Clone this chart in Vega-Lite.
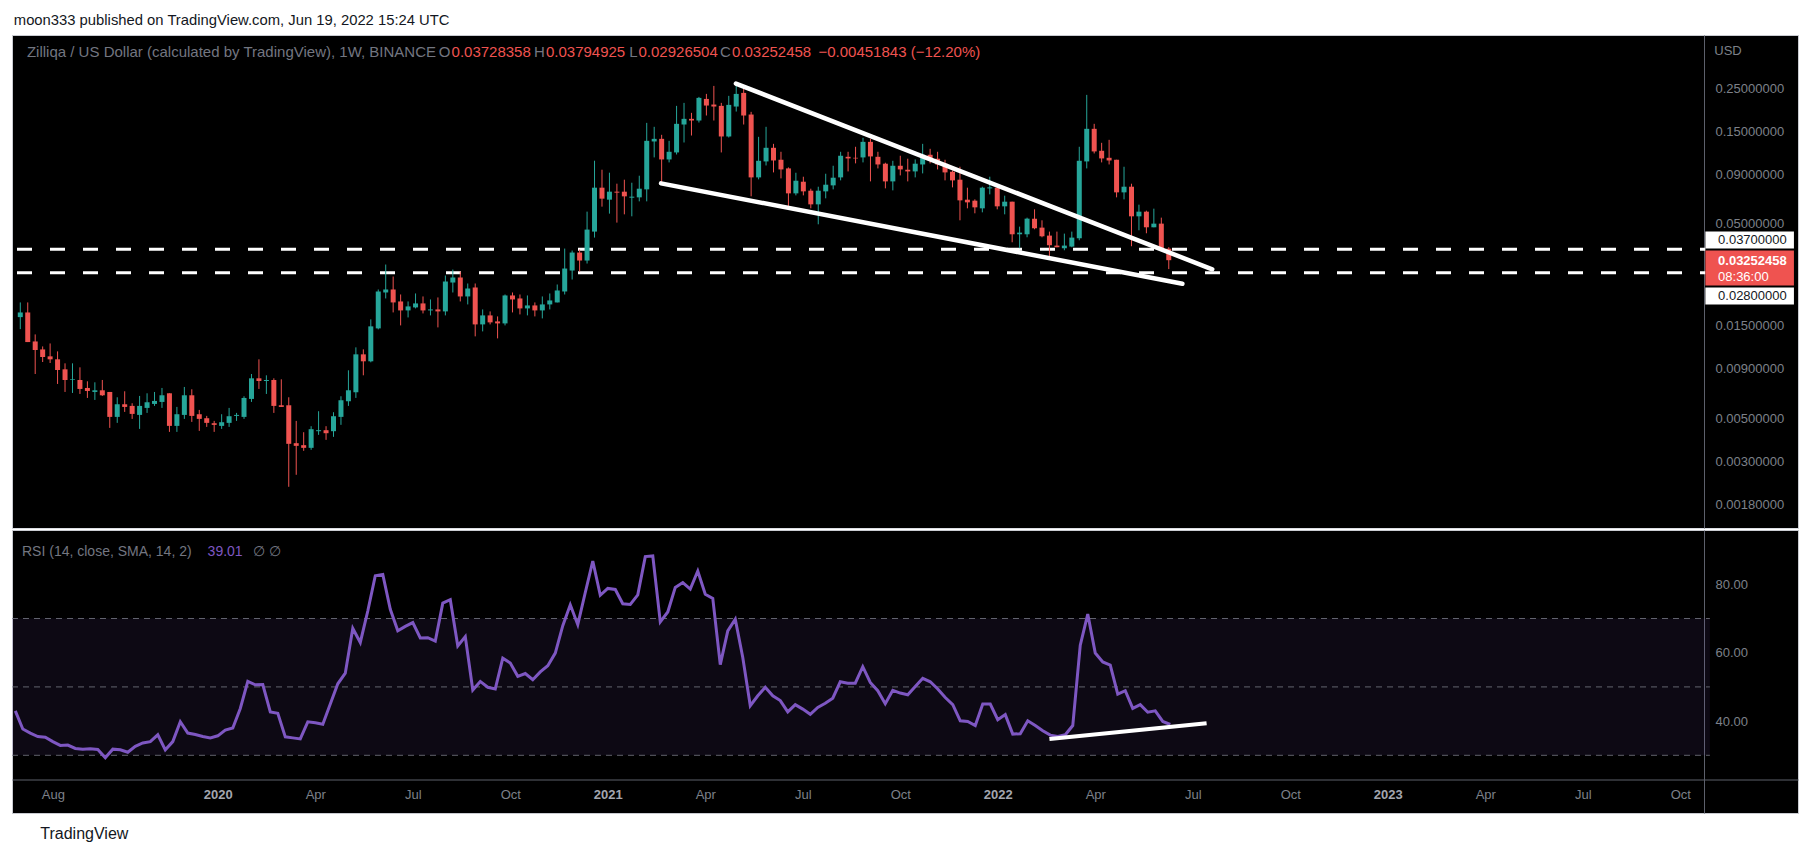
{
  "$schema": "https://vega.github.io/schema/vega-lite/v6.json",
  "background": "#ffffff",
  "padding": {"left": 8, "top": 12, "right": 12, "bottom": 14},
  "title": {"text": "moon333 published on TradingView.com, Jun 19, 2022 15:24 UTC", "anchor": "start", "fontSize": 14.8, "font": "Liberation Sans", "fontWeight": "normal", "color": "#131722", "offset": 7, "dx": 5},
  "config": {
    "view": {"fill": "#000000", "stroke": "#c9cbd1", "strokeWidth": 1},
    "font": "Liberation Sans",
    "axis": {"grid": false, "ticks": false, "title": null, "labelFont": "Liberation Sans", "labelOverlap": false, "labelFlush": false}
  },
  "spacing": 0,
  "resolve": {"scale": {"x": "independent", "y": "independent"}},
  "datasets": {
    "weekly": [
      {"date":"2019-07-01","open":0.01656,"high":0.01971,"low":0.01436,"close":0.01750,"rsi":43.0},
      {"date":"2019-07-08","open":0.01750,"high":0.01971,"low":0.01232,"close":0.01232,"rsi":37.7},
      {"date":"2019-07-15","open":0.01241,"high":0.01349,"low":0.008437,"close":0.01121,"rsi":36.5},
      {"date":"2019-07-22","open":0.01129,"high":0.01170,"low":0.009725,"close":0.01032,"rsi":35.5},
      {"date":"2019-07-29","open":0.01040,"high":0.01212,"low":0.009611,"close":0.01004,"rsi":35.3},
      {"date":"2019-08-05","open":0.01004,"high":0.01103,"low":0.007496,"close":0.008846,"rsi":34.0},
      {"date":"2019-08-12","open":0.008917,"high":0.009573,"low":0.006818,"close":0.007859,"rsi":32.9},
      {"date":"2019-08-19","open":0.007859,"high":0.009573,"low":0.006738,"close":0.007921,"rsi":33.0},
      {"date":"2019-08-26","open":0.007859,"high":0.009130,"low":0.006659,"close":0.007066,"rsi":32.0},
      {"date":"2019-09-02","open":0.007149,"high":0.007736,"low":0.006351,"close":0.006900,"rsi":31.8},
      {"date":"2019-09-09","open":0.006818,"high":0.007645,"low":0.006203,"close":0.006954,"rsi":31.9},
      {"date":"2019-09-16","open":0.006954,"high":0.007859,"low":0.006503,"close":0.006555,"rsi":31.7},
      {"date":"2019-09-23","open":0.006818,"high":0.006818,"low":0.004453,"close":0.005073,"rsi":29.3},
      {"date":"2019-09-30","open":0.005073,"high":0.006402,"low":0.004726,"close":0.005893,"rsi":31.8},
      {"date":"2019-10-07","open":0.005893,"high":0.006873,"low":0.005382,"close":0.005710,"rsi":31.6},
      {"date":"2019-10-14","open":0.005779,"high":0.005963,"low":0.004955,"close":0.005256,"rsi":30.9},
      {"date":"2019-10-21","open":0.005194,"high":0.006503,"low":0.004401,"close":0.005779,"rsi":32.6},
      {"date":"2019-10-28","open":0.005643,"high":0.006712,"low":0.005319,"close":0.006035,"rsi":33.6},
      {"date":"2019-11-04","open":0.005916,"high":0.006818,"low":0.005779,"close":0.006130,"rsi":34.0},
      {"date":"2019-11-11","open":0.006058,"high":0.007149,"low":0.005643,"close":0.006555,"rsi":36.0},
      {"date":"2019-11-18","open":0.006712,"high":0.006712,"low":0.004247,"close":0.004560,"rsi":31.6},
      {"date":"2019-11-25","open":0.004560,"high":0.005710,"low":0.004247,"close":0.005236,"rsi":34.0},
      {"date":"2019-12-02","open":0.005194,"high":0.007234,"low":0.004955,"close":0.006555,"rsi":39.8},
      {"date":"2019-12-09","open":0.006555,"high":0.007038,"low":0.004781,"close":0.005133,"rsi":36.5},
      {"date":"2019-12-16","open":0.005236,"high":0.005510,"low":0.004298,"close":0.004955,"rsi":36.1},
      {"date":"2019-12-23","open":0.004994,"high":0.005133,"low":0.004506,"close":0.004726,"rsi":35.5},
      {"date":"2019-12-30","open":0.004707,"high":0.004838,"low":0.004247,"close":0.004614,"rsi":35.1},
      {"date":"2020-01-06","open":0.004560,"high":0.005236,"low":0.004401,"close":0.004763,"rsi":35.7},
      {"date":"2020-01-13","open":0.004726,"high":0.005643,"low":0.004506,"close":0.005113,"rsi":37.4},
      {"date":"2020-01-20","open":0.005133,"high":0.005319,"low":0.004838,"close":0.005194,"rsi":38.0},
      {"date":"2020-01-27","open":0.005073,"high":0.006478,"low":0.004955,"close":0.006351,"rsi":43.7},
      {"date":"2020-02-03","open":0.006277,"high":0.008437,"low":0.006058,"close":0.008016,"rsi":51.6},
      {"date":"2020-02-10","open":0.008016,"high":0.01004,"low":0.007066,"close":0.007766,"rsi":50.6},
      {"date":"2020-02-17","open":0.007766,"high":0.008305,"low":0.006659,"close":0.007859,"rsi":50.7},
      {"date":"2020-02-24","open":0.007859,"high":0.008016,"low":0.005319,"close":0.005779,"rsi":42.7},
      {"date":"2020-03-02","open":0.005823,"high":0.007921,"low":0.005710,"close":0.005710,"rsi":42.3},
      {"date":"2020-03-09","open":0.005823,"high":0.006402,"low":0.002215,"close":0.003686,"rsi":35.4},
      {"date":"2020-03-16","open":0.003715,"high":0.004838,"low":0.002553,"close":0.003599,"rsi":35.1},
      {"date":"2020-03-23","open":0.003628,"high":0.004231,"low":0.003393,"close":0.003515,"rsi":34.8},
      {"date":"2020-03-30","open":0.003515,"high":0.004543,"low":0.003434,"close":0.004384,"rsi":39.8},
      {"date":"2020-04-06","open":0.004282,"high":0.005426,"low":0.004100,"close":0.004333,"rsi":39.5},
      {"date":"2020-04-13","open":0.004333,"high":0.004543,"low":0.003864,"close":0.004181,"rsi":39.1},
      {"date":"2020-04-20","open":0.004282,"high":0.005362,"low":0.004004,"close":0.005114,"rsi":45.0},
      {"date":"2020-04-27","open":0.005074,"high":0.006479,"low":0.004616,"close":0.006180,"rsi":50.9},
      {"date":"2020-05-04","open":0.006107,"high":0.008813,"low":0.005779,"close":0.006956,"rsi":54.0},
      {"date":"2020-05-11","open":0.006794,"high":0.01157,"low":0.006353,"close":0.01065,"rsi":67.1},
      {"date":"2020-05-18","open":0.01065,"high":0.01130,"low":0.008307,"close":0.009807,"rsi":63.0},
      {"date":"2020-05-25","open":0.009807,"high":0.01612,"low":0.009691,"close":0.01484,"rsi":72.2},
      {"date":"2020-06-01","open":0.01449,"high":0.02298,"low":0.01432,"close":0.02244,"rsi":82.5},
      {"date":"2020-06-08","open":0.02218,"high":0.03089,"low":0.02066,"close":0.02298,"rsi":82.9},
      {"date":"2020-06-15","open":0.02298,"high":0.02680,"low":0.01751,"close":0.01971,"rsi":72.7},
      {"date":"2020-06-22","open":0.01994,"high":0.02166,"low":0.01501,"close":0.01793,"rsi":66.4},
      {"date":"2020-06-29","open":0.01793,"high":0.01994,"low":0.01650,"close":0.01880,"rsi":67.7},
      {"date":"2020-07-06","open":0.01858,"high":0.02192,"low":0.01836,"close":0.01948,"rsi":68.8},
      {"date":"2020-07-13","open":0.01948,"high":0.02116,"low":0.01730,"close":0.01793,"rsi":64.3},
      {"date":"2020-07-20","open":0.01793,"high":0.02042,"low":0.01690,"close":0.01814,"rsi":64.4},
      {"date":"2020-07-27","open":0.01814,"high":0.02091,"low":0.01466,"close":0.01772,"rsi":63.4},
      {"date":"2020-08-03","open":0.01772,"high":0.02712,"low":0.01690,"close":0.02526,"rsi":74.5},
      {"date":"2020-08-10","open":0.02496,"high":0.02911,"low":0.02218,"close":0.02649,"rsi":75.5},
      {"date":"2020-08-17","open":0.02649,"high":0.02843,"low":0.01994,"close":0.02116,"rsi":62.0},
      {"date":"2020-08-24","open":0.02116,"high":0.02467,"low":0.01925,"close":0.02325,"rsi":64.7},
      {"date":"2020-08-31","open":0.02353,"high":0.02467,"low":0.01318,"close":0.01519,"rsi":49.1},
      {"date":"2020-09-07","open":0.01519,"high":0.01814,"low":0.01398,"close":0.01690,"rsi":51.6},
      {"date":"2020-09-14","open":0.01690,"high":0.01772,"low":0.01519,"close":0.01556,"rsi":49.9},
      {"date":"2020-09-21","open":0.01574,"high":0.01670,"low":0.01287,"close":0.01537,"rsi":49.4},
      {"date":"2020-09-28","open":0.01537,"high":0.02166,"low":0.01501,"close":0.02141,"rsi":58.4},
      {"date":"2020-10-05","open":0.02141,"high":0.02218,"low":0.01751,"close":0.02042,"rsi":57.0},
      {"date":"2020-10-12","open":0.02066,"high":0.02166,"low":0.01710,"close":0.01836,"rsi":53.1},
      {"date":"2020-10-19","open":0.01836,"high":0.02141,"low":0.01690,"close":0.01902,"rsi":53.9},
      {"date":"2020-10-26","open":0.01902,"high":0.01971,"low":0.01670,"close":0.01793,"rsi":52.1},
      {"date":"2020-11-02","open":0.01793,"high":0.02116,"low":0.01631,"close":0.01925,"rsi":54.4},
      {"date":"2020-11-09","open":0.01925,"high":0.02192,"low":0.01814,"close":0.02018,"rsi":56.2},
      {"date":"2020-11-16","open":0.01971,"high":0.02438,"low":0.01971,"close":0.02271,"rsi":59.9},
      {"date":"2020-11-23","open":0.02244,"high":0.03733,"low":0.02166,"close":0.02946,"rsi":67.9},
      {"date":"2020-11-30","open":0.02877,"high":0.03646,"low":0.02586,"close":0.03561,"rsi":74.0},
      {"date":"2020-12-07","open":0.03561,"high":0.03689,"low":0.02843,"close":0.03239,"rsi":68.2},
      {"date":"2020-12-14","open":0.03239,"high":0.05784,"low":0.03126,"close":0.04675,"rsi":77.6},
      {"date":"2020-12-21","open":0.04565,"high":0.1058,"low":0.04252,"close":0.07684,"rsi":86.8},
      {"date":"2020-12-28","open":0.07684,"high":0.09508,"low":0.06136,"close":0.06746,"rsi":76.8},
      {"date":"2021-01-04","open":0.06666,"high":0.09177,"low":0.05649,"close":0.07329,"rsi":78.8},
      {"date":"2021-01-11","open":0.07329,"high":0.08057,"low":0.05079,"close":0.07244,"rsi":78.5},
      {"date":"2021-01-18","open":0.07327,"high":0.08445,"low":0.05602,"close":0.06934,"rsi":74.3},
      {"date":"2021-01-25","open":0.06824,"high":0.08149,"low":0.05471,"close":0.06907,"rsi":74.1},
      {"date":"2021-02-01","open":0.06851,"high":0.08854,"low":0.06534,"close":0.07591,"rsi":76.9},
      {"date":"2021-02-08","open":0.07532,"high":0.1657,"low":0.06534,"close":0.1339,"rsi":88.1},
      {"date":"2021-02-15","open":0.1329,"high":0.1581,"low":0.1100,"close":0.1371,"rsi":88.3},
      {"date":"2021-02-22","open":0.1371,"high":0.1438,"low":0.08085,"close":0.1074,"rsi":69.0},
      {"date":"2021-03-01","open":0.1074,"high":0.1339,"low":0.1037,"close":0.1176,"rsi":71.9},
      {"date":"2021-03-08","open":0.1167,"high":0.2027,"low":0.1139,"close":0.1638,"rsi":79.1},
      {"date":"2021-03-15","open":0.1625,"high":0.2100,"low":0.1313,"close":0.1738,"rsi":80.5},
      {"date":"2021-03-22","open":0.1738,"high":0.1866,"low":0.1426,"close":0.1704,"rsi":78.6},
      {"date":"2021-03-29","open":0.1704,"high":0.2254,"low":0.1664,"close":0.2228,"rsi":83.9},
      {"date":"2021-04-05","open":0.2201,"high":0.2336,"low":0.1808,"close":0.2035,"rsi":77.1},
      {"date":"2021-04-12","open":0.2059,"high":0.2568,"low":0.1704,"close":0.2011,"rsi":75.9},
      {"date":"2021-04-19","open":0.2027,"high":0.2100,"low":0.1167,"close":0.1410,"rsi":56.5},
      {"date":"2021-04-26","open":0.1410,"high":0.2282,"low":0.1393,"close":0.2051,"rsi":66.4},
      {"date":"2021-05-03","open":0.2011,"high":0.2661,"low":0.1895,"close":0.2336,"rsi":69.8},
      {"date":"2021-05-10","open":0.2364,"high":0.2538,"low":0.1625,"close":0.1808,"rsi":58.6},
      {"date":"2021-05-17","open":0.1829,"high":0.1888,"low":0.06934,"close":0.08681,"rsi":44.5},
      {"date":"2021-05-24","open":0.08681,"high":0.1404,"low":0.08479,"close":0.1057,"rsi":47.4},
      {"date":"2021-05-31","open":0.1049,"high":0.1581,"low":0.1000,"close":0.1233,"rsi":49.9},
      {"date":"2021-06-07","open":0.1233,"high":0.1292,"low":0.09210,"close":0.1061,"rsi":47.4},
      {"date":"2021-06-14","open":0.1070,"high":0.1176,"low":0.08578,"close":0.09542,"rsi":46.0},
      {"date":"2021-06-21","open":0.09656,"high":0.09771,"low":0.06015,"close":0.07183,"rsi":42.7},
      {"date":"2021-06-28","open":0.07183,"high":0.09173,"low":0.07015,"close":0.08345,"rsi":44.8},
      {"date":"2021-07-05","open":0.08246,"high":0.08749,"low":0.07015,"close":0.07356,"rsi":43.5},
      {"date":"2021-07-12","open":0.07414,"high":0.07591,"low":0.06015,"close":0.06306,"rsi":42.0},
      {"date":"2021-07-19","open":0.06306,"high":0.07773,"low":0.04977,"close":0.07414,"rsi":44.0},
      {"date":"2021-07-26","open":0.07356,"high":0.09065,"low":0.06771,"close":0.07959,"rsi":45.2},
      {"date":"2021-08-02","open":0.07897,"high":0.09964,"low":0.07532,"close":0.08647,"rsi":46.7},
      {"date":"2021-08-09","open":0.08681,"high":0.1176,"low":0.08379,"close":0.1122,"rsi":51.5},
      {"date":"2021-08-16","open":0.1108,"high":0.1176,"low":0.09319,"close":0.1087,"rsi":51.1},
      {"date":"2021-08-23","open":0.1095,"high":0.1248,"low":0.1025,"close":0.1087,"rsi":51.1},
      {"date":"2021-08-30","open":0.1100,"high":0.1388,"low":0.1037,"close":0.1323,"rsi":55.9},
      {"date":"2021-09-06","open":0.1323,"high":0.1371,"low":0.08279,"close":0.1113,"rsi":51.3},
      {"date":"2021-09-13","open":0.1108,"high":0.1176,"low":0.09656,"close":0.1012,"rsi":48.9},
      {"date":"2021-09-20","open":0.1021,"high":0.1033,"low":0.07621,"close":0.08279,"rsi":45.1},
      {"date":"2021-09-27","open":0.08279,"high":0.1057,"low":0.07443,"close":0.09964,"rsi":49.0},
      {"date":"2021-10-04","open":0.09964,"high":0.1122,"low":0.08888,"close":0.09542,"rsi":48.2},
      {"date":"2021-10-11","open":0.09505,"high":0.1083,"low":0.08279,"close":0.09319,"rsi":47.7},
      {"date":"2021-10-18","open":0.09319,"high":0.1074,"low":0.08681,"close":0.1021,"rsi":50.1},
      {"date":"2021-10-25","open":0.1012,"high":0.1292,"low":0.09101,"close":0.1135,"rsi":52.5},
      {"date":"2021-11-01","open":0.1135,"high":0.1218,"low":0.1025,"close":0.1087,"rsi":51.5},
      {"date":"2021-11-08","open":0.1083,"high":0.1176,"low":0.09542,"close":0.1012,"rsi":49.4},
      {"date":"2021-11-15","open":0.1021,"high":0.1070,"low":0.08379,"close":0.09210,"rsi":46.9},
      {"date":"2021-11-22","open":0.09283,"high":0.09430,"low":0.07712,"close":0.08379,"rsi":44.8},
      {"date":"2021-11-29","open":0.08445,"high":0.09847,"low":0.05219,"close":0.06612,"rsi":40.1},
      {"date":"2021-12-06","open":0.06664,"high":0.07682,"low":0.06015,"close":0.06457,"rsi":39.9},
      {"date":"2021-12-13","open":0.06586,"high":0.06690,"low":0.05670,"close":0.06086,"rsi":38.7},
      {"date":"2021-12-20","open":0.06015,"high":0.07773,"low":0.05736,"close":0.07682,"rsi":45.0},
      {"date":"2021-12-27","open":0.07621,"high":0.08749,"low":0.07099,"close":0.07712,"rsi":45.0},
      {"date":"2022-01-03","open":0.07682,"high":0.07897,"low":0.05944,"close":0.06159,"rsi":40.4},
      {"date":"2022-01-10","open":0.06159,"high":0.06988,"low":0.05602,"close":0.06508,"rsi":41.9},
      {"date":"2022-01-17","open":0.06508,"high":0.06508,"low":0.04023,"close":0.04422,"rsi":36.2},
      {"date":"2022-01-24","open":0.04422,"high":0.04842,"low":0.03747,"close":0.04510,"rsi":36.3},
      {"date":"2022-01-31","open":0.04422,"high":0.05386,"low":0.04268,"close":0.05322,"rsi":40.1},
      {"date":"2022-02-07","open":0.05322,"high":0.05944,"low":0.04692,"close":0.04747,"rsi":38.7},
      {"date":"2022-02-14","open":0.04785,"high":0.05219,"low":0.04268,"close":0.04319,"rsi":37.2},
      {"date":"2022-02-21","open":0.04353,"high":0.04564,"low":0.03329,"close":0.03883,"rsi":35.9},
      {"date":"2022-02-28","open":0.03867,"high":0.04564,"low":0.03792,"close":0.03792,"rsi":35.5},
      {"date":"2022-03-07","open":0.03747,"high":0.04457,"low":0.03659,"close":0.03867,"rsi":36.0},
      {"date":"2022-03-14","open":0.03822,"high":0.04564,"low":0.03792,"close":0.04251,"rsi":38.7},
      {"date":"2022-03-21","open":0.04218,"high":0.1248,"low":0.04119,"close":0.1057,"rsi":62.2},
      {"date":"2022-03-28","open":0.1049,"high":0.2309,"low":0.09656,"close":0.1544,"rsi":71.3},
      {"date":"2022-04-04","open":0.1544,"high":0.1638,"low":0.1153,"close":0.1181,"rsi":59.9},
      {"date":"2022-04-11","open":0.1190,"high":0.1308,"low":0.1037,"close":0.1087,"rsi":57.3},
      {"date":"2022-04-18","open":0.1095,"high":0.1355,"low":0.1012,"close":0.1061,"rsi":56.4},
      {"date":"2022-04-25","open":0.1070,"high":0.1070,"low":0.06851,"close":0.07269,"rsi":47.9},
      {"date":"2022-05-02","open":0.07269,"high":0.09847,"low":0.06690,"close":0.07773,"rsi":48.9},
      {"date":"2022-05-09","open":0.07773,"high":0.08053,"low":0.03837,"close":0.05471,"rsi":43.7},
      {"date":"2022-05-16","open":0.05471,"high":0.06281,"low":0.04637,"close":0.05782,"rsi":44.8},
      {"date":"2022-05-23","open":0.05782,"high":0.05851,"low":0.04475,"close":0.04804,"rsi":42.6},
      {"date":"2022-05-30","open":0.04804,"high":0.05991,"low":0.04804,"close":0.05017,"rsi":43.0},
      {"date":"2022-06-06","open":0.05017,"high":0.05386,"low":0.03703,"close":0.03703,"rsi":39.9},
      {"date":"2022-06-13","open":0.03728358,"high":0.03794925,"low":0.02926504,"close":0.03252458,"rsi":39.01}
    ],
    "levels": [
      {"date":"2019-06-27T22:00:00Z","date2":"2023-10-29T16:00:00Z","price":0.037},
      {"date":"2019-06-27T22:00:00Z","date2":"2023-10-29T16:00:00Z","price":0.028}
    ],
    "trend": [
      {"line":"upper","date":"2021-05-02T17:00:00Z","price":0.2640},
      {"line":"upper","date":"2022-07-23T19:00:00Z","price":0.02920},
      {"line":"lower","date":"2021-02-21T10:00:00Z","price":0.08086},
      {"line":"lower","date":"2022-06-25T19:00:00Z","price":0.02459}
    ],
    "tags": [
      {"kind":"level","date":"2023-10-29T16:00:00Z","date2":"2024-01-20T19:00:00Z","price":0.04567,"price2":0.03733},
      {"kind":"last","date":"2023-10-29T16:00:00Z","date2":"2024-01-20T19:00:00Z","price":0.03646,"price2":0.02410},
      {"kind":"level","date":"2023-10-29T16:00:00Z","date2":"2024-01-20T19:00:00Z","price":0.02354,"price2":0.01924}
    ],
    "tagtext": [
      {"kind":"level","date":"2023-11-10T14:00:00Z","price":0.04133,"text":"0.03700000"},
      {"kind":"last","date":"2023-11-10T14:00:00Z","price":0.03240,"text":"0.03252458"},
      {"kind":"countdown","date":"2023-11-10T14:00:00Z","price":0.02680,"text":"08:36:00"},
      {"kind":"level","date":"2023-11-10T14:00:00Z","price":0.02128,"text":"0.02800000"},
      {"kind":"unit","date":"2023-11-07T00:00:00Z","price":0.38869,"text":"USD"}
    ],
    "legend": [
      {"date":"2019-07-07T06:00:00Z","price":0.384,"text":"Zilliqa / US Dollar (calculated by TradingView), 1W, BINANCE","part":"name"},
      {"date":"2020-08-08T19:00:00Z","price":0.384,"text":"O","part":"letter"},
      {"date":"2020-08-08T19:00:00Z","price":0.384,"text":"0.03728358","part":"value"},
      {"date":"2020-11-05T10:00:00Z","price":0.384,"text":"H","part":"letter"},
      {"date":"2020-11-05T10:00:00Z","price":0.384,"text":"0.03794925","part":"value"},
      {"date":"2021-01-31T07:00:00Z","price":0.384,"text":"L","part":"letter"},
      {"date":"2021-01-31T07:00:00Z","price":0.384,"text":"0.02926504","part":"value"},
      {"date":"2021-04-29T00:00:00Z","price":0.384,"text":"C","part":"letter"},
      {"date":"2021-04-29T00:00:00Z","price":0.384,"text":"0.03252458","part":"value"},
      {"date":"2021-07-19T05:00:00Z","price":0.384,"text":"−0.00451843 (−12.20%)","part":"value"}
    ],
    "band": [
      {"date":"2019-06-27T22:00:00Z","date2":"2023-10-29T16:00:00Z","lo":30,"hi":70}
    ],
    "guides": [
      {"date":"2019-06-27T22:00:00Z","date2":"2023-10-29T16:00:00Z","level":70},
      {"date":"2019-06-27T22:00:00Z","date2":"2023-10-29T16:00:00Z","level":50},
      {"date":"2019-06-27T22:00:00Z","date2":"2023-10-29T16:00:00Z","level":30}
    ],
    "rsitrend": [
      {"date":"2022-02-20T05:00:00Z","rsi":34.8},
      {"date":"2022-07-16T22:00:00Z","rsi":39.4}
    ],
    "rsilegend": [
      {"date":"2019-07-07T06:00:00Z","rsi":89.5,"text":"RSI (14, close, SMA, 14, 2)","part":"name"},
      {"date":"2019-12-27T12:00:00Z","rsi":89.5,"text":"39.01","part":"value"},
      {"date":"2020-02-08T07:00:00Z","rsi":89.5,"text":"∅  ∅","part":"name"}
    ]
  },
  "vconcat": [
    {
      "width": 1786,
      "height": 493,
      "encoding": {
        "x": {
          "field": "date", "type": "temporal",
          "scale": {"type": "utc", "domain": [{"year": 2019, "month": 6, "date": 27, "hours": 22, "utc": true}, {"year": 2024, "month": 1, "date": 19, "hours": 22, "utc": true}]},
          "axis": {"orient": "bottom", "labels": false, "ticks": false, "domain": true, "domainColor": "#d9dbe1", "domainWidth": 1, "title": null}
        }
      },
      "layer": [
        {
          "data": {"name": "levels"},
          "mark": {"type": "rule", "color": "#ffffff", "strokeWidth": 3, "strokeDash": [15, 18]},
          "encoding": {
            "x2": {"field": "date2"},
            "y": {
              "field": "price", "type": "quantitative", "title": null,
              "scale": {"type": "log", "domain": [0.0013588, 0.46965], "nice": false},
              "axis": {"orient": "right", "offset": -94, "values": [0.25, 0.15, 0.09, 0.05, 0.015, 0.009, 0.005, 0.003, 0.0018], "format": ".8f", "labelColor": "#7d8089", "labelFontSize": 13, "labelPadding": 11, "domainColor": "#5d606b", "ticks": false, "grid": false, "title": null}
            }
          }
        },
        {
          "data": {"name": "weekly"},
          "mark": {"type": "rule", "strokeWidth": 1},
          "encoding": {
            "y": {"field": "low", "type": "quantitative", "title": null},
            "y2": {"field": "high"},
            "color": {"condition": {"test": "datum.close >= datum.open", "value": "#26a69a"}, "value": "#ef5350"}
          }
        },
        {
          "data": {"name": "weekly"},
          "mark": {"type": "bar", "width": 5},
          "encoding": {
            "y": {"field": "open", "type": "quantitative", "title": null},
            "y2": {"field": "close"},
            "color": {"condition": {"test": "datum.close >= datum.open", "value": "#26a69a"}, "value": "#ef5350"}
          }
        },
        {
          "data": {"name": "trend"},
          "mark": {"type": "line", "color": "#ffffff", "strokeWidth": 4.5, "strokeCap": "round"},
          "encoding": {
            "y": {"field": "price", "type": "quantitative", "title": null},
            "detail": {"field": "line"}
          }
        },
        {
          "data": {"name": "tags"},
          "mark": {"type": "rect"},
          "encoding": {
            "x2": {"field": "date2"},
            "y": {"field": "price", "type": "quantitative", "title": null},
            "y2": {"field": "price2"},
            "color": {"condition": {"test": "datum.kind == 'last'", "value": "#ef5350"}, "value": "#ffffff"}
          }
        },
        {
          "data": {"name": "tagtext"},
          "transform": [{"filter": "datum.kind == 'last'"}],
          "mark": {"type": "text", "align": "left", "baseline": "middle", "fontSize": 13, "fontWeight": "bold", "color": "#ffffff"},
          "encoding": {
            "y": {"field": "price", "type": "quantitative", "title": null},
            "text": {"field": "text"}
          }
        },
        {
          "data": {"name": "tagtext"},
          "transform": [{"filter": "datum.kind != 'last'"}],
          "mark": {"type": "text", "align": "left", "baseline": "middle", "fontSize": 13},
          "encoding": {
            "y": {"field": "price", "type": "quantitative", "title": null},
            "text": {"field": "text"},
            "color": {"condition": [{"test": "datum.kind == 'countdown'", "value": "#ffffff"}, {"test": "datum.kind == 'unit'", "value": "#7d8089"}], "value": "#131722"}
          }
        },
        {
          "data": {"name": "legend"},
          "transform": [{"filter": "datum.part != 'letter'"}],
          "mark": {"type": "text", "align": "left", "baseline": "middle", "fontSize": 15},
          "encoding": {
            "y": {"field": "price", "type": "quantitative", "title": null},
            "text": {"field": "text"},
            "color": {"condition": {"test": "datum.part == 'value'", "value": "#ef5350"}, "value": "#737680"}
          }
        },
        {
          "data": {"name": "legend"},
          "transform": [{"filter": "datum.part == 'letter'"}],
          "mark": {"type": "text", "align": "right", "baseline": "middle", "fontSize": 15, "dx": -1, "color": "#737680"},
          "encoding": {
            "y": {"field": "price", "type": "quantitative", "title": null},
            "text": {"field": "text"}
          }
        }
      ]
    },
    {
      "width": 1786,
      "height": 283,
      "title": {"text": "TradingView", "orient": "bottom", "anchor": "start", "fontSize": 16, "fontWeight": "normal", "font": "Liberation Sans", "color": "#131722", "offset": 13, "dx": 31},
      "encoding": {
        "x": {
          "field": "date", "type": "temporal",
          "scale": {"type": "utc", "domain": [{"year": 2019, "month": 6, "date": 27, "hours": 22, "utc": true}, {"year": 2024, "month": 1, "date": 19, "hours": 22, "utc": true}]},
          "axis": {
            "orient": "bottom", "offset": -33.5, "title": null, "ticks": false, "grid": false,
            "domainColor": "#5d606b",
            "values": [
              {"year": 2019, "month": 8, "date": 5, "utc": true},
              {"year": 2020, "month": 1, "date": 6, "utc": true},
              {"year": 2020, "month": 4, "date": 6, "utc": true},
              {"year": 2020, "month": 7, "date": 6, "utc": true},
              {"year": 2020, "month": 10, "date": 5, "utc": true},
              {"year": 2021, "month": 1, "date": 4, "utc": true},
              {"year": 2021, "month": 4, "date": 5, "utc": true},
              {"year": 2021, "month": 7, "date": 5, "utc": true},
              {"year": 2021, "month": 10, "date": 4, "utc": true},
              {"year": 2022, "month": 1, "date": 3, "utc": true},
              {"year": 2022, "month": 4, "date": 4, "utc": true},
              {"year": 2022, "month": 7, "date": 4, "utc": true},
              {"year": 2022, "month": 10, "date": 3, "utc": true},
              {"year": 2023, "month": 1, "date": 2, "utc": true},
              {"year": 2023, "month": 4, "date": 3, "utc": true},
              {"year": 2023, "month": 7, "date": 3, "utc": true},
              {"year": 2023, "month": 10, "date": 2, "utc": true}
            ],
            "labelExpr": "utcmonth(datum.value) == 0 ? utcFormat(datum.value, '%Y') : utcFormat(datum.value, '%b')",
            "labelColor": {"condition": {"test": "utcmonth(datum.value) == 0", "value": "#a3a6af"}, "value": "#7d8089"},
            "labelFontWeight": {"condition": {"test": "utcmonth(datum.value) == 0", "value": "bold"}, "value": "normal"},
            "labelFontSize": 13, "labelPadding": 9
          }
        }
      },
      "layer": [
        {
          "data": {"name": "band"},
          "mark": {"type": "rect", "color": "#7e57c2", "opacity": 0.1},
          "encoding": {
            "x2": {"field": "date2"},
            "y": {
              "field": "lo", "type": "quantitative", "title": null,
              "scale": {"domain": [13.13, 95.88], "nice": false, "zero": false},
              "axis": {"orient": "right", "offset": -94, "values": [40, 60, 80], "format": ".2f", "labelColor": "#7d8089", "labelFontSize": 13, "labelPadding": 11, "domainColor": "#5d606b", "ticks": false, "grid": false, "title": null}
            },
            "y2": {"field": "hi"}
          }
        },
        {
          "data": {"name": "guides"},
          "mark": {"type": "rule", "color": "#787b86", "strokeWidth": 1, "strokeDash": [6, 5], "opacity": 0.8},
          "encoding": {
            "x2": {"field": "date2"},
            "y": {"field": "level", "type": "quantitative", "title": null}
          }
        },
        {
          "data": {"name": "weekly"},
          "mark": {"type": "line", "color": "#7e57c2", "strokeWidth": 3},
          "encoding": {
            "y": {"field": "rsi", "type": "quantitative", "title": null}
          }
        },
        {
          "data": {"name": "rsitrend"},
          "mark": {"type": "line", "color": "#ffffff", "strokeWidth": 4, "strokeCap": "butt"},
          "encoding": {
            "y": {"field": "rsi", "type": "quantitative", "title": null}
          }
        },
        {
          "data": {"name": "rsilegend"},
          "mark": {"type": "text", "align": "left", "baseline": "middle", "fontSize": 14},
          "encoding": {
            "y": {"field": "rsi", "type": "quantitative", "title": null},
            "text": {"field": "text"},
            "color": {"condition": {"test": "datum.part == 'value'", "value": "#7e57c2"}, "value": "#737680"}
          }
        }
      ]
    }
  ]
}
